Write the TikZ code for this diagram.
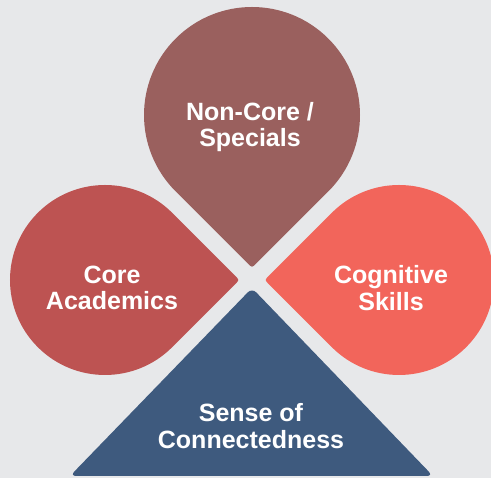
\documentclass[tikz,border=0pt]{standalone}
\usepackage{fontspec}
\setmainfont{Liberation Sans}
\usetikzlibrary{calc}

\definecolor{bgGray}{HTML}{E7E8EA}
\definecolor{nonCoreClr}{HTML}{9A605E}
\definecolor{coreClr}{HTML}{BD5352}
\definecolor{cognClr}{HTML}{F2655B}
\definecolor{senseClr}{HTML}{3E5A7E}

\tikzset{
  leaftext/.style={text=white,font=\fontsize{25}{26.5}\selectfont\bfseries,align=center}
}

\newcommand{\petal}[4]{%
  \coordinate (#2-tip) at ([shift={({#4}:{#3*1.41421})}]#2);
  \fill[#1] (#2-tip) ++({#4+135}:6) .. controls (#2-tip) .. ([shift={({#4-135}:6)}]#2-tip)
    -- ([shift={({#4-45}:#3)}]#2) arc[start angle={#4-45}, end angle={#4-315}, radius=#3pt] -- cycle;
}

\begin{document}
\begin{tikzpicture}[x=1pt,y=1pt]

\fill[bgGray] (0,0) rectangle (491,478);
\useasboundingbox (0,0) rectangle (491,478);

\coordinate (noncore) at (252,363);
\coordinate (core) at (105,198);
\coordinate (cogn) at (399,198);

\petal{nonCoreClr}{noncore}{108}{270}
\petal{coreClr}{core}{95}{0}
\petal{cognClr}{cogn}{95}{180}

\coordinate (apex) at (252,190);
\coordinate (baseL) at (70,2);
\coordinate (baseR) at (433,2);
\fill[senseClr,rounded corners=6] (apex) -- (baseL) -- (baseR) -- cycle;

\node (A) at (250,351) [leaftext] {Non-Core /\\Specials};
\node (B) at (112,190) [leaftext] {Core\\Academics};
\node (C) at (391,190) [leaftext] {Cognitive\\Skills};
\node (D) at (251,52) [leaftext] {Sense of\\Connectedness};

\end{tikzpicture}
\end{document}
